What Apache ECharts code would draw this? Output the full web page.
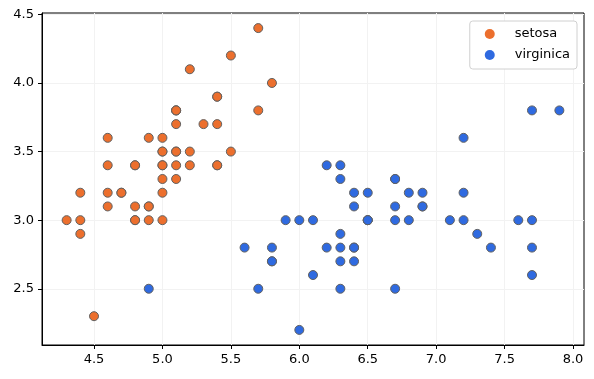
<!DOCTYPE html>
<html><head><meta charset="utf-8">
<script src="https://cdn.jsdelivr.net/npm/echarts@6/dist/echarts.min.js"></script>
<style>html,body{margin:0;padding:0;background:#fff}#c{width:594px;height:379px}</style>
</head><body><div id="c"></div>
<script>
const setosaX = [5.1,4.9,4.7,4.6,5.0,5.4,4.6,5.0,4.4,4.9,5.4,4.8,4.8,4.3,5.8,5.7,5.4,5.1,5.7,5.1,5.4,5.1,4.6,5.1,4.8,5.0,5.0,5.2,5.2,4.7,4.8,5.4,5.2,5.5,4.9,5.0,5.5,4.9,4.4,5.1,5.0,4.5,4.4,5.0,5.1,4.8,5.1,4.6,5.3,5.0];
const setosaY = [3.5,3.0,3.2,3.1,3.6,3.9,3.4,3.4,2.9,3.1,3.7,3.4,3.0,3.0,4.0,4.4,3.9,3.5,3.8,3.8,3.4,3.7,3.6,3.3,3.4,3.0,3.4,3.5,3.4,3.2,3.1,3.4,4.1,4.2,3.1,3.2,3.5,3.6,3.0,3.4,3.5,2.3,3.2,3.5,3.8,3.0,3.8,3.2,3.7,3.3];
const virginicaX = [6.3,5.8,7.1,6.3,6.5,7.6,4.9,7.3,6.7,7.2,6.5,6.4,6.8,5.7,5.8,6.4,6.5,7.7,7.7,6.0,6.9,5.6,7.7,6.3,6.7,7.2,6.2,6.1,6.4,7.2,7.4,7.9,6.4,6.3,6.1,7.7,6.3,6.4,6.0,6.9,6.7,6.9,5.8,6.8,6.7,6.7,6.3,6.5,6.2,5.9];
const virginicaY = [3.3,2.7,3.0,2.9,3.0,3.0,2.5,2.9,2.5,3.6,3.2,2.7,3.0,2.5,2.8,3.2,3.0,3.8,2.6,2.2,3.2,2.8,2.8,2.7,3.3,3.2,2.8,3.0,2.8,3.0,2.8,3.8,2.8,2.8,2.6,3.0,3.4,3.1,3.0,3.1,3.1,3.1,2.7,3.2,3.3,3.0,2.5,3.0,3.4,3.0];
const xTicks = [4.5,5.0,5.5,6.0,6.5,7.0,7.5,8.0];
const yTicks = [2.5,3.0,3.5,4.0,4.5];

const zip = (a,b) => a.map((v,i)=>[v,b[i]]);
const font = 'DejaVu Sans';
const chart = echarts.init(document.getElementById('c'), null, {renderer:'canvas'});
const axisCommon = {
  axisLine:{show:true,onZero:false,lineStyle:{color:'#000',width:1}},
  axisTick:{show:true,length:4,lineStyle:{color:'#000'}},
  splitLine:{show:true,lineStyle:{color:'#f2f2f2',width:1}},
};
chart.setOption({
  animation:false,
  grid:{left:42,right:10,top:13,bottom:34,show:true,borderColor:'#000',borderWidth:1,containLabel:false},
  legend:{
    orient:'vertical', right:17, top:21,
    data:['setosa','virginica'],
    icon:'circle', itemWidth:10, itemHeight:10, itemGap:7,
    itemStyle:{borderWidth:0},
    backgroundColor:'#fff', borderColor:'#d0d0d0', borderWidth:1, borderRadius:3,
    padding:[6,7,7,15],
    textStyle:{fontFamily:font,fontSize:13,color:'#000',lineHeight:14,padding:[0,0,0,15]}
  },
  xAxis:{
    type:'value', min:4.12, max:8.08,
    ...axisCommon,
    axisTick:{...axisCommon.axisTick, customValues:xTicks},
    axisLabel:{customValues:xTicks, formatter:v=>v.toFixed(1), fontFamily:font,fontSize:13,color:'#000',margin:8}
  },
  yAxis:{
    type:'value', min:2.09, max:4.51,
    ...axisCommon,
    axisTick:{...axisCommon.axisTick, customValues:yTicks},
    axisLabel:{customValues:yTicks, formatter:v=>v.toFixed(1), fontFamily:font,fontSize:13,color:'#000',margin:8}
  },
  series:[
    {name:'setosa',type:'scatter',data:zip(setosaX,setosaY),symbolSize:9,
     itemStyle:{color:'#EC6F2D',borderColor:'#606060',borderWidth:1,opacity:1}},
    {name:'virginica',type:'scatter',data:zip(virginicaX,virginicaY),symbolSize:9,
     itemStyle:{color:'#2F6AE0',borderColor:'#606060',borderWidth:1,opacity:1}}
  ]
});
</script></body></html>
